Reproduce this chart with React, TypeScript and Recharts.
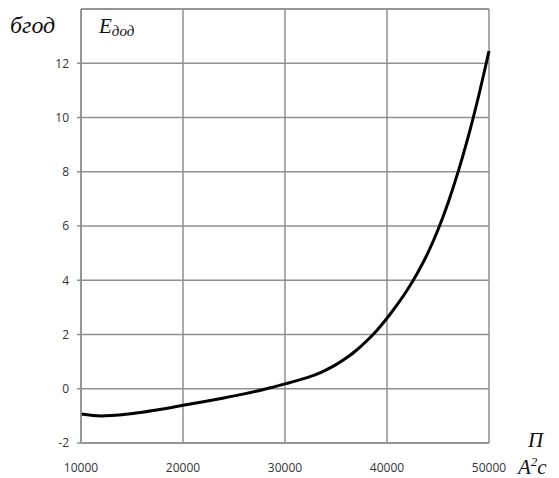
import { LineChart, Line, XAxis, YAxis, CartesianGrid, ReferenceLine } from "recharts";

const xValues = [10000, 12000, 14000, 16000, 18000, 20000, 22000, 24000, 26000, 28000, 29000, 30000, 31000, 32000, 33000, 34000, 35000, 36000, 37000, 38000, 39000, 40000, 41000, 42000, 43000, 44000, 45000, 46000, 47000, 48000, 49000, 50000];
const eValues = [-0.93, -1.0, -0.96, -0.87, -0.75, -0.61, -0.48, -0.34, -0.19, -0.02, 0.08, 0.18, 0.28, 0.39, 0.52, 0.69, 0.89, 1.13, 1.42, 1.76, 2.15, 2.6, 3.1, 3.65, 4.28, 5.0, 5.86, 6.87, 8.03, 9.34, 10.82, 12.45];
const xTicks = [10000, 20000, 30000, 40000, 50000];
const yTicks = [-2, 0, 2, 4, 6, 8, 10, 12];

const data = xValues.map((x, i) => ({ x, e: eValues[i] }));

const grid = "#8f8f8f";
const serif = "'Liberation Serif', 'DejaVu Serif', serif";

const App = () => {
  return (
    <div style={{ position: "fixed", left: 0, top: 0, width: 559, height: 478, background: "#fff" }}>
      <LineChart width={559} height={478} data={data} margin={{ top: 9, right: 70, left: 21, bottom: 5 }}>
        <CartesianGrid stroke={grid} strokeWidth={1.5} />
        <ReferenceLine y={14} stroke={grid} strokeWidth={1.5} />
        <XAxis
          dataKey="x"
          type="number"
          domain={[10000, 50000]}
          ticks={xTicks}
          height={30}
          axisLine={{ stroke: grid, strokeWidth: 1.5 }}
          tickLine={false}
          tickMargin={14}
          tick={{ fill: "#333", fontSize: 12, fontFamily: "'Open Sans', sans-serif" }}
        />
        <YAxis
          type="number"
          domain={[-2, 14]}
          ticks={yTicks}
          width={60}
          axisLine={{ stroke: grid, strokeWidth: 1.5 }}
          tickLine={{ stroke: grid, strokeWidth: 1.5 }}
          tickSize={4}
          tickMargin={8}
          tick={{ fill: "#333", fontSize: 12, fontFamily: "'Open Sans', sans-serif" }}
        />
        <Line type="monotone" dataKey="e" stroke="#000" strokeWidth={3} dot={false} isAnimationActive={false} />
      </LineChart>
      <svg width={559} height={478} style={{ position: "absolute", left: 0, top: 0, pointerEvents: "none" }}>
        <text x={10} y={33} fontFamily={serif} fontStyle="italic" fontSize={24} fill="#111">бгод</text>
        <text x={99} y={33} fontFamily={serif} fontStyle="italic" fontSize={21} fill="#111">
          E<tspan fontSize={15} dy={3}>дод</tspan>
        </text>
        <text x={528} y={447} fontFamily={serif} fontStyle="italic" fontSize={21} fill="#111">П</text>
        <text x={518} y={474} fontFamily={serif} fontStyle="italic" fontSize={21} fill="#111">
          A<tspan fontSize={13} dy={-8}>2</tspan><tspan dy={8}>c</tspan>
        </text>
      </svg>
    </div>
  );
};

export default App;
